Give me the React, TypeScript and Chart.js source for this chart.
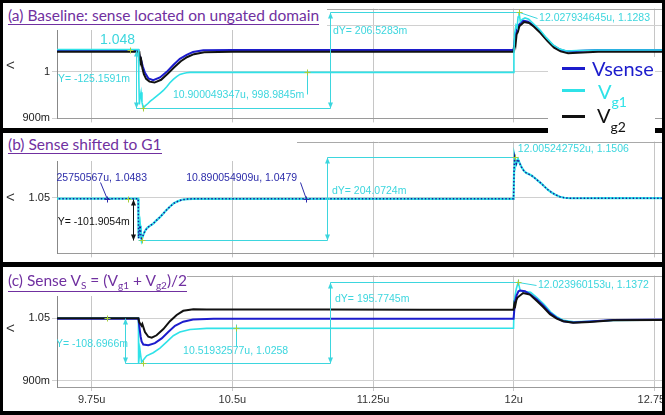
import React, { useEffect, useRef } from 'react';
import { Chart, registerables } from 'chart.js';

Chart.register(...registerables);

// ---------- axes ----------
const X_TICKS = [9.75, 10.5, 11.25, 12, 12.75];
const X_MIN = 9.565;
const X_MAX = 12.993;

const A_Y_TICKS = [0.9, 1.0, 1.1];
const B_Y_TICKS = [1.05];
const C_Y_TICKS = [0.9, 1.05];

// ---------- series: [time (us), volts] ----------
// (a) Baseline
const A_VG1: [number, number][] = [
  [9.5, 1.048], [9.999, 1.048], [10.001, 0.99], [10.004, 0.93], [10.008, 0.945], [10.013, 0.956],
  [10.018, 0.935], [10.025, 0.9228], [10.035, 0.927], [10.05, 0.932], [10.061, 0.9366], [10.078, 0.942],
  [10.096, 0.948], [10.114, 0.954], [10.132, 0.96], [10.15, 0.968], [10.167, 0.9766], [10.185, 0.984],
  [10.203, 0.99], [10.22, 0.9945], [10.238, 0.9966], [10.256, 0.998], [10.274, 0.999], [10.3, 0.999],
  [10.9, 0.999], [11.5, 0.999], [11.999, 0.999], [12.001, 1.04], [12.004, 1.08], [12.012, 1.1],
  [12.018, 1.095], [12.023, 1.118], [12.028, 1.1283], [12.035, 1.108], [12.045, 1.113], [12.06, 1.116],
  [12.08, 1.113], [12.104, 1.104], [12.14, 1.09], [12.175, 1.073], [12.21, 1.058], [12.246, 1.049],
  [12.282, 1.045], [12.335, 1.046], [12.45, 1.047], [13.1, 1.047],
];
const A_VS: [number, number][] = [
  [9.5, 1.047], [9.999, 1.047], [10.004, 1.035], [10.01, 1.03], [10.016, 1.022], [10.022, 1.012],
  [10.034, 0.998], [10.052, 0.986], [10.078, 0.982], [10.114, 0.988], [10.15, 1.0], [10.185, 1.0146],
  [10.22, 1.028], [10.256, 1.0366], [10.29, 1.0426], [10.345, 1.0466], [10.5, 1.047], [11.5, 1.047],
  [11.999, 1.047], [12.003, 1.06], [12.007, 1.075], [12.015, 1.088], [12.025, 1.1], [12.05, 1.11],
  [12.077, 1.108], [12.104, 1.1], [12.14, 1.0866], [12.175, 1.07], [12.21, 1.0566], [12.246, 1.048],
  [12.282, 1.044], [12.335, 1.045], [12.45, 1.047], [13.1, 1.047],
];
const A_VG2: [number, number][] = [
  [9.5, 1.043], [9.999, 1.043], [10.002, 1.03], [10.006, 1.035], [10.01, 1.02], [10.014, 1.025],
  [10.02, 1.008], [10.028, 0.995], [10.04, 0.985], [10.058, 0.979], [10.085, 0.977], [10.12, 0.983],
  [10.155, 0.996], [10.19, 1.01], [10.225, 1.023], [10.26, 1.032], [10.295, 1.038], [10.35, 1.042],
  [10.5, 1.043], [11.5, 1.043], [11.999, 1.043], [12.002, 1.055], [12.006, 1.068], [12.01, 1.06],
  [12.015, 1.08], [12.022, 1.086], [12.03, 1.098], [12.055, 1.107], [12.082, 1.105], [12.108, 1.097],
  [12.144, 1.083], [12.18, 1.066], [12.215, 1.052], [12.25, 1.044], [12.29, 1.04], [12.34, 1.041],
  [12.45, 1.043], [13.1, 1.043],
];
// (b) Sense shifted to G1 (Vsense = Vg1)
const B_V: [number, number][] = [
  [9.5, 1.0483], [9.998, 1.0483], [10.0, 0.951], [10.004, 0.968], [10.008, 0.982], [10.012, 0.96],
  [10.016, 0.9465], [10.024, 0.958], [10.034, 0.969], [10.045, 0.976], [10.058, 0.981], [10.078, 0.987],
  [10.095, 0.995], [10.114, 1.003], [10.132, 1.012], [10.15, 1.021], [10.168, 1.029], [10.185, 1.036],
  [10.205, 1.041], [10.23, 1.0455], [10.26, 1.0472], [10.29, 1.0479], [11.5, 1.0479], [11.999, 1.0479],
  [12.002, 1.12], [12.005, 1.1506], [12.01, 1.14], [12.014, 1.134], [12.018, 1.14], [12.023, 1.145],
  [12.032, 1.135], [12.041, 1.126], [12.055, 1.116], [12.068, 1.111], [12.082, 1.108], [12.095, 1.105],
  [12.112, 1.099], [12.13, 1.092], [12.148, 1.085], [12.166, 1.077], [12.183, 1.07], [12.2, 1.064],
  [12.222, 1.058], [12.246, 1.053], [12.27, 1.0505], [12.3, 1.0493], [12.5, 1.0495], [13.1, 1.0495],
];
// (c) Sense Vs = (Vg1 + Vg2)/2
const C_VS: [number, number][] = [
  [9.5, 1.049], [9.999, 1.049], [10.004, 1.03], [10.011, 1.0055], [10.016, 0.994], [10.025, 0.9866],
  [10.052, 0.985], [10.087, 0.99], [10.123, 1.0014], [10.158, 1.0167], [10.194, 1.0317], [10.238, 1.0417],
  [10.29, 1.047], [10.4, 1.049], [11.5, 1.049], [11.999, 1.049], [12.003, 1.07], [12.007, 1.09],
  [12.015, 1.105], [12.025, 1.115], [12.034, 1.117], [12.06, 1.115], [12.087, 1.108], [12.122, 1.096],
  [12.157, 1.081], [12.193, 1.063], [12.229, 1.051], [12.264, 1.043], [12.317, 1.04], [12.406, 1.042],
  [12.53, 1.046], [13.1, 1.048],
];
const C_VG2: [number, number][] = [
  [9.5, 1.05], [9.999, 1.05], [10.004, 1.04], [10.016, 1.032], [10.02, 1.036], [10.034, 1.017],
  [10.052, 1.0055], [10.07, 1.0033], [10.096, 1.009], [10.132, 1.024], [10.167, 1.043], [10.203, 1.058],
  [10.238, 1.068], [10.292, 1.0717], [10.363, 1.071], [11.0, 1.071], [11.5, 1.0705], [11.999, 1.0705],
  [12.003, 1.085], [12.008, 1.08], [12.014, 1.094], [12.02, 1.1], [12.05, 1.111], [12.086, 1.107],
  [12.122, 1.092], [12.157, 1.077], [12.193, 1.06], [12.229, 1.049], [12.264, 1.043], [12.317, 1.0394],
  [12.406, 1.041], [12.53, 1.045], [13.1, 1.047],
];
const C_VG1: [number, number][] = [
  [9.5, 1.0505], [9.999, 1.0505], [10.0, 0.941], [10.007, 0.975], [10.016, 0.944], [10.025, 0.9495],
  [10.043, 0.9595], [10.078, 0.967], [10.114, 0.978], [10.15, 0.993], [10.185, 1.008], [10.22, 1.017],
  [10.274, 1.023], [10.363, 1.0256], [11.5, 1.0258], [11.999, 1.0258], [12.002, 1.09], [12.013, 1.12],
  [12.024, 1.1372], [12.034, 1.118], [12.045, 1.115], [12.09, 1.1125], [12.125, 1.0995], [12.16, 1.0845],
  [12.196, 1.0656], [12.232, 1.053], [12.267, 1.045], [12.32, 1.0416], [12.41, 1.043], [12.53, 1.045],
  [13.1, 1.047],
];

// ---------- styles ----------
const CYAN = '#2fe2e8';
const BLUE = '#1c1ccc';
const BLACK = '#111111';
const ANN_CYAN = '#3dd6de';
const ANN_BLUE = '#2c2caa';
const PLUS = '#a6cf3c';
const PURPLE = '#7030a0';
const TICK_FONT = { family: '"Liberation Sans", Arial, sans-serif', size: 11 };

type Ann =
  | { k: 'text'; x: number; y: number; s: string; c: string; size?: number; al?: CanvasTextAlign }
  | { k: 'line'; x1: number; y1: number; x2: number; y2: number; c: string }
  | { k: 'arrow'; x: number; y1: number; y2: number; c: string }
  | { k: 'plus'; x: number; y: number; c: string };

const A_ANN: Ann[] = [
  { k: 'text', x: 9.794, y: 1.0686, s: '1.048', c: ANN_CYAN, size: 14 },
  { k: 'plus', x: 9.954, y: 1.048, c: PLUS },
  { k: 'arrow', x: 9.986, y1: 1.048, y2: 0.9228, c: ANN_CYAN },
  { k: 'text', x: 9.954, y: 0.9852, s: 'dY= -125.1591m', c: ANN_CYAN, al: 'right' },
  { k: 'line', x1: 9.986, y1: 0.9222, x2: 11.02, y2: 0.9222, c: ANN_CYAN },
  { k: 'plus', x: 10.025, y: 0.9228, c: PLUS },
  { k: 'arrow', x: 11.02, y1: 0.9218, y2: 1.1283, c: ANN_CYAN },
  { k: 'line', x1: 11.02, y1: 1.1283, x2: 12.028, y2: 1.1283, c: ANN_CYAN },
  { k: 'text', x: 11.036, y: 1.0886, s: 'dY= 206.5283m', c: ANN_CYAN },
  { k: 'line', x1: 10.9, y1: 1.004, x2: 10.9, y2: 0.953, c: ANN_CYAN },
  { k: 'plus', x: 10.9, y: 0.999, c: PLUS },
  { k: 'text', x: 10.183, y: 0.9506, s: '10.900049347u, 998.9845m', c: ANN_CYAN },
  { k: 'line', x1: 12.028, y1: 1.1283, x2: 12.123, y2: 1.1166, c: ANN_CYAN },
  { k: 'plus', x: 12.028, y: 1.1283, c: PLUS },
  { k: 'text', x: 12.135, y: 1.1166, s: '12.027934645u, 1.1283', c: ANN_CYAN },
];
const B_ANN: Ann[] = [
  { k: 'line', x1: 9.83, y1: 1.0483, x2: 9.794, y2: 1.0885, c: ANN_BLUE },
  { k: 'plus', x: 9.83, y: 1.0483, c: ANN_BLUE },
  { k: 'text', x: 10.0448, y: 1.0999, s: '9.825750567u, 1.0483', c: ANN_BLUE, al: 'right' },
  { k: 'plus', x: 9.944, y: 1.0483, c: PLUS },
  { k: 'arrow', x: 9.97, y1: 1.0483, y2: 0.9464, c: BLACK },
  { k: 'text', x: 9.953, y: 0.9917, s: 'dY= -101.9054m', c: BLACK, al: 'right' },
  { k: 'line', x1: 9.997, y1: 0.9465, x2: 11.004, y2: 0.9465, c: ANN_CYAN },
  { k: 'plus', x: 10.016, y: 0.9465, c: PLUS },
  { k: 'arrow', x: 11.004, y1: 0.9465, y2: 1.1506, c: ANN_CYAN },
  { k: 'line', x1: 11.004, y1: 1.1506, x2: 12.005, y2: 1.1506, c: ANN_CYAN },
  { k: 'text', x: 11.031, y: 1.0659, s: 'dY= 204.0724m', c: ANN_CYAN },
  { k: 'plus', x: 12.005, y: 1.1506, c: PLUS },
  { k: 'text', x: 12.022, y: 1.1702, s: '12.005242752u, 1.1506', c: ANN_CYAN },
  { k: 'line', x1: 10.89, y1: 1.0479, x2: 10.86, y2: 1.0885, c: ANN_BLUE },
  { k: 'plus', x: 10.89, y: 1.0479, c: ANN_BLUE },
  { k: 'text', x: 10.845, y: 1.0999, s: '10.890054909u, 1.0479', c: ANN_BLUE, al: 'right' },
];
const C_ANN: Ann[] = [
  { k: 'plus', x: 9.83, y: 1.05, c: PLUS },
  { k: 'arrow', x: 9.9275, y1: 1.05, y2: 0.9413, c: ANN_CYAN },
  { k: 'text', x: 9.9435, y: 0.9881, s: 'dY= -108.6966m', c: ANN_CYAN, al: 'right' },
  { k: 'line', x1: 9.9275, y1: 0.9413, x2: 11.02, y2: 0.9413, c: ANN_CYAN },
  { k: 'plus', x: 10.025, y: 0.9413, c: PLUS },
  { k: 'arrow', x: 11.02, y1: 0.9413, y2: 1.1372, c: ANN_CYAN },
  { k: 'line', x1: 11.02, y1: 1.1372, x2: 12.024, y2: 1.1372, c: ANN_CYAN },
  { k: 'text', x: 11.047, y: 1.0958, s: 'dY= 195.7745m', c: ANN_CYAN },
  { k: 'line', x1: 10.519, y1: 1.035, x2: 10.519, y2: 0.984, c: ANN_CYAN },
  { k: 'plus', x: 10.519, y: 1.0258, c: PLUS },
  { k: 'text', x: 10.237, y: 0.9717, s: '10.51932577u, 1.0258', c: ANN_CYAN },
  { k: 'line', x1: 12.024, y1: 1.1372, x2: 12.12, y2: 1.131, c: ANN_CYAN },
  { k: 'plus', x: 12.024, y: 1.1372, c: PLUS },
  { k: 'text', x: 12.129, y: 1.1297, s: '12.023960153u, 1.1372', c: ANN_CYAN },
];

// ---------- helpers ----------
const ds = (pts: [number, number][], color: string, width: number, dash: number[] = []) => ({
  data: pts.map(([x, y]) => ({ x, y })),
  borderColor: color,
  backgroundColor: color,
  borderWidth: width,
  borderDash: dash,
  pointRadius: 0,
  fill: false,
  tension: 0,
});

const yLabel = (v: number) => (v < 1 ? `${Math.round(v * 1000)}m` : `${+v.toFixed(3)}`);

const framePlugin = {
  id: 'frame',
  beforeDatasetsDraw(chart: any) {
    const { ctx, chartArea: ca } = chart;
    ctx.save();
    ctx.strokeStyle = '#a9a9a9';
    ctx.lineWidth = 1;
    ctx.beginPath();
    ctx.moveTo(ca.left, Math.round(ca.top) + 0.5);
    ctx.lineTo(ca.right, Math.round(ca.top) + 0.5);
    ctx.stroke();
    ctx.restore();
  },
};

const annPlugin = (items: Ann[]) => ({
  id: 'ann',
  afterDatasetsDraw(chart: any) {
    const { ctx, chartArea: ca } = chart;
    const sx = chart.scales.x;
    const sy = chart.scales.y;
    const X = (v: number) => Math.round(sx.getPixelForValue(v)) + 0.5;
    const Y = (v: number) => Math.round(sy.getPixelForValue(v)) + 0.5;
    ctx.save();
    ctx.beginPath();
    ctx.rect(ca.left, ca.top, ca.right - ca.left, ca.bottom - ca.top);
    ctx.clip();
    ctx.lineWidth = 1;
    for (const it of items) {
      if (it.k === 'line') {
        ctx.strokeStyle = it.c;
        ctx.beginPath();
        ctx.moveTo(X(it.x1), Y(it.y1));
        ctx.lineTo(X(it.x2), Y(it.y2));
        ctx.stroke();
      } else if (it.k === 'arrow') {
        const x = X(it.x);
        const a = Math.min(Y(it.y1), Y(it.y2));
        const b = Math.max(Y(it.y1), Y(it.y2));
        ctx.strokeStyle = it.c;
        ctx.fillStyle = it.c;
        ctx.beginPath();
        ctx.moveTo(x, a);
        ctx.lineTo(x, b);
        ctx.stroke();
        ctx.beginPath();
        ctx.moveTo(x, a);
        ctx.lineTo(x - 2.5, a + 6);
        ctx.lineTo(x + 2.5, a + 6);
        ctx.closePath();
        ctx.moveTo(x, b);
        ctx.lineTo(x - 2.5, b - 6);
        ctx.lineTo(x + 2.5, b - 6);
        ctx.closePath();
        ctx.fill();
      } else if (it.k === 'plus') {
        const x = X(it.x);
        const y = Y(it.y);
        ctx.strokeStyle = it.c;
        ctx.beginPath();
        ctx.moveTo(x - 3, y);
        ctx.lineTo(x + 3, y);
        ctx.moveTo(x, y - 3);
        ctx.lineTo(x, y + 3);
        ctx.stroke();
      } else {
        ctx.fillStyle = it.c;
        ctx.font = `${it.size || 10.5}px "Liberation Sans", Arial, sans-serif`;
        ctx.textAlign = it.al || 'left';
        ctx.textBaseline = 'middle';
        ctx.fillText(it.s, sx.getPixelForValue(it.x), sy.getPixelForValue(it.y));
      }
    }
    ctx.restore();
  },
});

type PanelSpec = {
  yMin: number;
  yMax: number;
  yTicks: number[];
  datasets: any[];
  ann: Ann[];
  showX: boolean;
  padTop: number;
  padBottom: number;
  xHeight: number;
};

const PANEL_A: PanelSpec = {
  yMin: 0.9, yMax: 1.136, yTicks: A_Y_TICKS,
  datasets: [ds(A_VG1, CYAN, 1.6), ds(A_VG2, BLACK, 2), ds(A_VS, BLUE, 2)],
  ann: A_ANN, showX: false, padTop: 5, padBottom: 0, xHeight: 4,
};
const PANEL_B: PanelSpec = {
  yMin: 0.9139, yMax: 1.1883, yTicks: B_Y_TICKS,
  datasets: [ds(B_V, '#1a1a9c', 1.5, [1.5, 2]), ds(B_V, CYAN, 2.2)],
  ann: B_ANN, showX: false, padTop: 3, padBottom: 1, xHeight: 4,
};
const PANEL_C: PanelSpec = {
  yMin: 0.8843, yMax: 1.1529, yTicks: C_Y_TICKS,
  datasets: [ds(C_VG2, BLACK, 2), ds(C_VS, BLUE, 2), ds(C_VG1, CYAN, 1.6)],
  ann: C_ANN, showX: true, padTop: 1, padBottom: 0, xHeight: 24,
};

function makeChart(canvas: HTMLCanvasElement, p: PanelSpec) {
  return new Chart(canvas, {
    type: 'line',
    data: { datasets: p.datasets },
    options: {
      animation: false,
      responsive: false,
      devicePixelRatio: 1,
      layout: { padding: { top: p.padTop, bottom: p.padBottom, left: 0, right: 0 } },
      plugins: { legend: { display: false }, tooltip: { enabled: false } },
      elements: { point: { radius: 0 }, line: { tension: 0 } },
      scales: {
        x: {
          type: 'linear',
          min: X_MIN,
          max: X_MAX,
          afterBuildTicks: (s: any) => {
            s.ticks = X_TICKS.map((v) => ({ value: v }));
          },
          afterFit: (s: any) => {
            s.height = p.xHeight;
          },
          ticks: {
            display: p.showX,
            callback: (v: any) => `${v}u`,
            font: TICK_FONT,
            color: '#333',
            padding: 2,
            maxRotation: 0,
            autoSkip: false,
          },
          grid: { color: '#c6c6c6', tickLength: 4, lineWidth: 1 },
          border: { color: '#9a9a9a' },
        },
        y: {
          type: 'linear',
          min: p.yMin,
          max: p.yMax,
          afterBuildTicks: (s: any) => {
            s.ticks = p.yTicks.map((v) => ({ value: v }));
          },
          afterFit: (s: any) => {
            s.width = 57;
          },
          ticks: { callback: (v: any) => yLabel(v), font: TICK_FONT, color: '#222', padding: 2 },
          grid: { color: '#d0d0d0', tickLength: 5 },
          border: { color: '#888' },
        },
      },
    } as any,
    plugins: [framePlugin, annPlugin(p.ann)],
  });
}

const abs = (l: number, t: number, w: number, h: number, extra: React.CSSProperties = {}): React.CSSProperties => ({
  position: 'absolute', left: l, top: t, width: w, height: h, ...extra,
});

const TITLE_FONT = '"Lato", "Open Sans", sans-serif';

export default function App() {
  const ra = useRef<HTMLCanvasElement>(null);
  const rb = useRef<HTMLCanvasElement>(null);
  const rc = useRef<HTMLCanvasElement>(null);

  useEffect(() => {
    const charts = [
      makeChart(ra.current!, PANEL_A),
      makeChart(rb.current!, PANEL_B),
      makeChart(rc.current!, PANEL_C),
    ];
    return () => charts.forEach((c) => c.destroy());
  }, []);

  const titleStyle: React.CSSProperties = {
    position: 'absolute', left: 5, whiteSpace: 'nowrap', fontFamily: TITLE_FONT, fontSize: 15.5,
    lineHeight: '17px', color: PURPLE, borderBottom: `1px solid ${PURPLE}`,
  };
  const sub: React.CSSProperties = { fontSize: 10, position: 'relative', top: 3 };
  const lt: React.CSSProperties = {
    position: 'absolute', left: 6, fontFamily: '"Liberation Sans", Arial', fontSize: 15, lineHeight: '15px', color: '#333',
  };

  return (
    <div style={abs(0, 0, 665, 415, { position: 'fixed', background: '#fff', overflow: 'hidden' })}>
      <div style={abs(0, 0, 700, 127)}>
        <canvas ref={ra} width={700} height={127} style={{ width: 700, height: 127, display: 'block' }} />
      </div>
      <div style={abs(0, 133, 700, 129)}>
        <canvas ref={rb} width={700} height={129} style={{ width: 700, height: 129, display: 'block' }} />
      </div>
      <div style={abs(0, 267, 700, 144)}>
        <canvas ref={rc} width={700} height={144} style={{ width: 700, height: 144, display: 'block' }} />
      </div>

      {/* titles */}
      <div style={abs(3, 3, 324, 27, { background: '#fff' })}>
        <span style={{ ...titleStyle, top: 4 }}>(a) Baseline: sense located on ungated domain</span>
      </div>
      <div style={abs(3, 133, 294, 28, { background: '#fff' })}>
        <span style={{ ...titleStyle, top: 3 }}>(b) Sense shifted to G1</span>
      </div>
      <div style={abs(3, 267, 184, 29, { background: '#fff' })}>
        <span style={{ ...titleStyle, top: 5 }}>
          (c) Sense V<span style={sub}>S</span> = (V<span style={sub}>g1</span> + V<span style={sub}>g2</span>)/2
        </span>
      </div>

      {/* axis side markers */}
      <span style={{ ...lt, top: 57 }}>&lt;</span>
      <span style={{ ...lt, top: 189 }}>&lt;</span>
      <span style={{ ...lt, top: 320 }}>&lt;</span>

      {/* black frame */}
      <div style={abs(0, 0, 665, 3, { background: '#000' })} />
      <div style={abs(0, 411, 665, 4, { background: '#000' })} />
      <div style={abs(0, 0, 3, 415, { background: '#000' })} />
      <div style={abs(662, 0, 3, 415, { background: '#000' })} />
      <div style={abs(0, 128, 665, 5, { background: '#000' })} />
      <div style={abs(0, 262, 665, 5, { background: '#000' })} />

      {/* legend */}
      <div style={abs(548, 57, 107, 80, { background: '#fff', fontFamily: TITLE_FONT })}>
        <div style={abs(14, 10, 23, 3, { background: BLUE })} />
        <span style={{ position: 'absolute', left: 44, top: 1, fontSize: 20, lineHeight: '20px', color: BLUE }}>Vsense</span>
        <div style={abs(14, 32, 23, 3, { background: CYAN })} />
        <span style={{ position: 'absolute', left: 50, top: 24, fontSize: 20, lineHeight: '20px', color: CYAN, whiteSpace: 'nowrap' }}>
          V<span style={{ fontSize: 14, position: 'relative', top: 8 }}>g1</span>
        </span>
        <div style={abs(14, 58, 23, 3, { background: BLACK })} />
        <span style={{ position: 'absolute', left: 49, top: 48, fontSize: 20, lineHeight: '20px', color: BLACK, whiteSpace: 'nowrap' }}>
          V<span style={{ fontSize: 14, position: 'relative', top: 9 }}>g2</span>
        </span>
      </div>
    </div>
  );
}
